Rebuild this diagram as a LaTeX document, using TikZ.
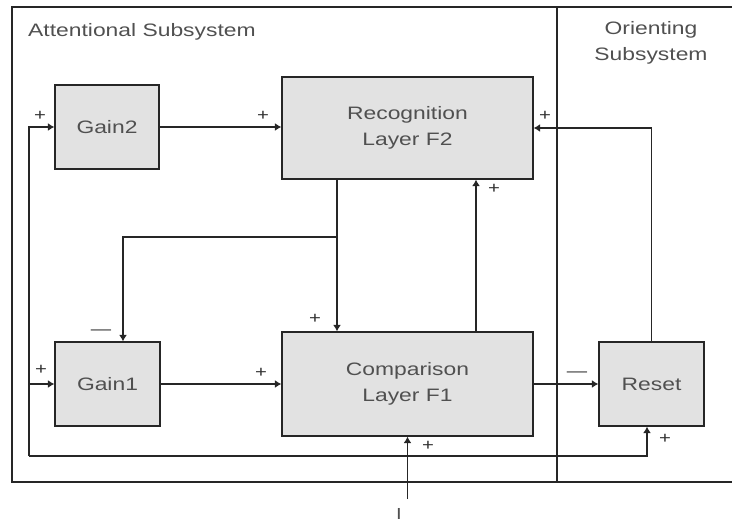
\documentclass[tikz,border=0pt]{standalone}
\usepackage{fontspec}
\setmainfont[FakeStretch=1.27]{Liberation Sans}
\usetikzlibrary{arrows.meta,positioning}

\definecolor{boxfill}{HTML}{E2E2E2}
\definecolor{txtgray}{HTML}{505050}

\tikzset{
    block/.style={rectangle,draw=black!85,line width=1.3pt,fill=boxfill,text=txtgray,align=center,
        font=\fontsize{18}{26}\selectfont},
    arr/.style={-{Latex[length=6.5pt,width=8pt]},line width=1.3pt,black!85},
    sign/.style={inner sep=0pt,text=black!80,font=\fontsize{16}{16}\selectfont},
    title/.style={inner sep=0pt,text=txtgray,align=center,font=\fontsize{18}{26}\selectfont}
}

\begin{document}
\begin{tikzpicture}[x=1pt,y=-1pt]
    \useasboundingbox (0,0) rectangle (732,522);
    % frame
    \draw[line width=1.3pt,black!85] (745,7) -- (12,7) -- (12,482) -- (745,482);
    \draw[line width=1.3pt,black!85] (557,7) -- (557,482);
    \node[title,anchor=west] (attn) at (28,32) {Attentional Subsystem};
    \node[title] (orient) at (651,43) {Orienting\\Subsystem};

    % blocks
    \node[block,minimum width=104pt,minimum height=84pt] (gaintwo) at (107,127) {Gain2};
    \node[block,minimum width=251pt,minimum height=102pt] (recog) at (407.5,128) {Recognition\\Layer F2};
    \node[block,minimum width=105pt,minimum height=84pt] (gainone) at (107.5,384) {Gain1};
    \node[block,minimum width=251pt,minimum height=104pt] (comp) at (407.5,384) {Comparison\\Layer F1};
    \node[block,minimum width=105pt,minimum height=84pt] (reset) at (651.5,384) {Reset};

    \coordinate (fbcorner) at (29,456);
    \coordinate (split) at (337,237);
    \coordinate (input) at (407.5,499);

    % connectors
    \draw[arr] (gaintwo.east) -- (recog.west |- gaintwo.east);
    \draw[arr] (gainone.east) -- (comp.west |- gainone.east);
    \draw[arr] (comp.east) -- (reset.west);
    \draw[arr] (fbcorner) |- (gaintwo.west);
    \draw[arr] (fbcorner |- gainone.west) -- (gainone.west);
    \draw[arr] (fbcorner) -| ([xshift=-4.5pt]reset.south);
    \draw[arr] ([xshift=-70.5pt]recog.south) -- ([xshift=-70.5pt]comp.north);
    \draw[arr] (split) -| ([xshift=15.5pt]gainone.north);
    \draw[arr] ([xshift=68.5pt]comp.north) -- ([xshift=68.5pt]recog.south);
    \draw[arr] (reset.north) |- (recog.east);
    \draw[arr] (input) -- (comp.south);
    \node[inner sep=0pt,text=txtgray,font=\fontsize{16}{16}\selectfont] (inlabel) at (399,514) {I};

    % signs
    \node[sign] (s1) at (40,116) {+};
    \node[sign] (s2) at (263,116) {+};
    \node[sign] (s3) at (545,116) {+};
    \node[sign] (s4) at (494,189) {+};
    \node[sign] (s5) at (101,332) {—};
    \node[sign] (s6) at (41,370) {+};
    \node[sign] (s7) at (315,319) {+};
    \node[sign] (s8) at (261,373) {+};
    \node[sign] (s9) at (577,374) {—};
    \node[sign] (s10) at (428,446) {+};
    \node[sign] (s11) at (665,439) {+};
\end{tikzpicture}
\end{document}
